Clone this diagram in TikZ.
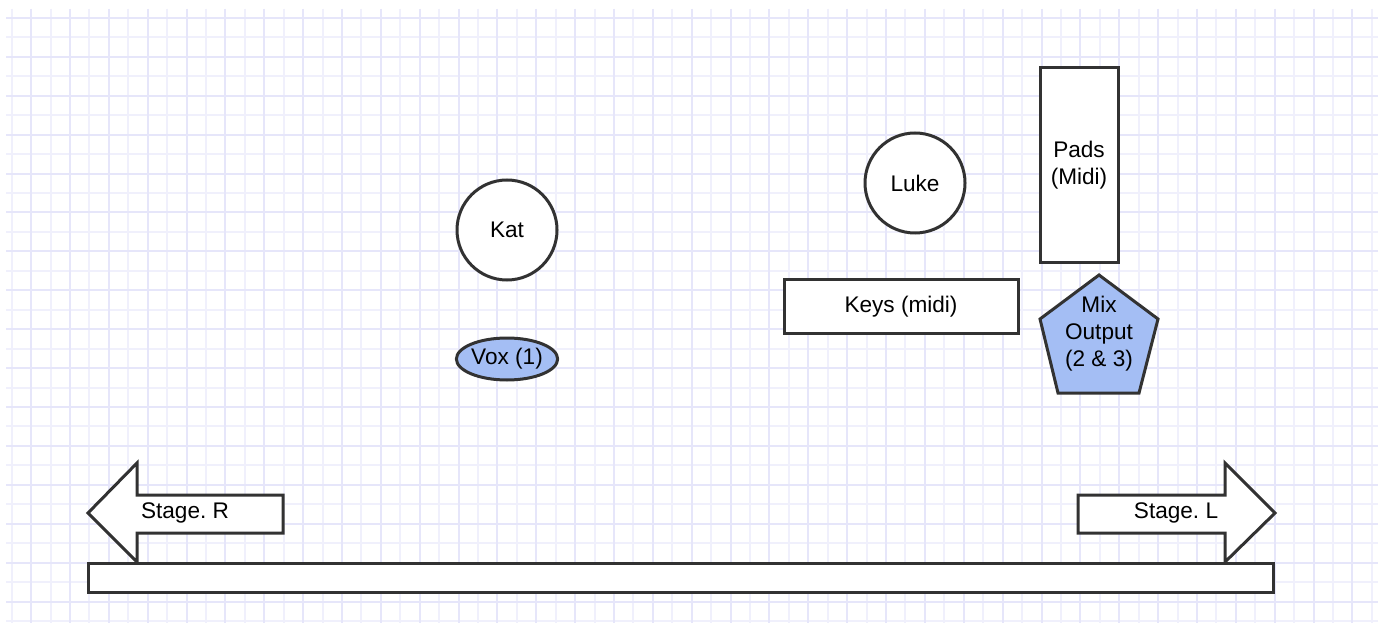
\documentclass[tikz,border=0pt]{standalone}
\usepackage{fontspec}
\setmainfont{Liberation Sans}
\frenchspacing
\usetikzlibrary{shapes.geometric}
\definecolor{gridminor}{RGB}{240,240,252}
\definecolor{gridmajor}{RGB}{230,230,250}
\definecolor{voxblue}{RGB}{164,190,244}
\definecolor{edgegray}{RGB}{50,50,50}
\newcommand{\paper}
{   \foreach \i in {0,2,...,70} \draw[gridminor] (11.7+19.43*\i,9) -- (11.7+19.43*\i,623);
    \foreach \j in {1,3,...,31} \draw[gridminor] (6,18+19.45*\j) -- (1378,18+19.45*\j);
    \foreach \i in {1,3,...,69} \draw[gridmajor] (11.7+19.43*\i,9) -- (11.7+19.43*\i,623);
    \foreach \j in {0,2,...,30} \draw[gridmajor] (6,18+19.45*\j) -- (1378,18+19.45*\j);
}
\newcommand{\stageright}
{   \draw[piece] (283,495) -- (137,495) -- (137,463) -- (88,513) -- (137,562) -- (137,533) -- (283,533) -- cycle;
}
\newcommand{\stageleft}
{   \draw[piece] (1078,495) -- (1225,495) -- (1225,463) -- (1275,513) -- (1225,562) -- (1225,533) -- (1078,533) -- cycle;
}
\newcommand{\mixpentagon}[1]
{   \draw[piece, fill=#1] (1099,275) -- (1158,319) -- (1139,393) -- (1058,393) -- (1040,319) -- cycle;
}

\begin{document}
\begin{tikzpicture}[x=0.5pt,y=-0.5pt,
  every node/.style={font=\fontsize{11.3}{13.5}\selectfont, align=center},
  piece/.style={draw=edgegray, line width=1.5pt, fill=white, inner sep=0pt}]

 \useasboundingbox (0,0) rectangle (1384,625);
 \fill[white] (0,0) rectangle (1384,625);
 \begin{scope}[line width=1pt]
  \paper
 \end{scope}

 % people
 \node[piece, circle, minimum size=50pt] (kat) at (507,230) {Kat};
 \node[piece, circle, minimum size=50pt] (luke) at (915,183) {Luke};

 % gear
 \node[piece, ellipse, fill=voxblue, minimum width=50pt, minimum height=21pt] (vox) at (507,359) {Vox (1)};
 \node[piece, rectangle, minimum width=39pt, minimum height=97.5pt] (pads) at (1079,165) {Pads\\(Midi)};
 \node[piece, rectangle, minimum width=117pt, minimum height=26.5pt] (keys) at (901,306.5) {Keys (midi)};
 \mixpentagon{voxblue}
 \node (mix) at (1099,334) {Mix\\Output\\(2 \& 3)};

 % stage
 \stageright \stageleft
 \node (stageR) at (185,513) {Stage. R};
 \node (stageL) at (1176,513) {Stage. L};
 \node[piece, rectangle, minimum width=592.5pt, minimum height=14.5pt] (stage) at (680.5,577.5) {};

\end{tikzpicture}
\end{document}
